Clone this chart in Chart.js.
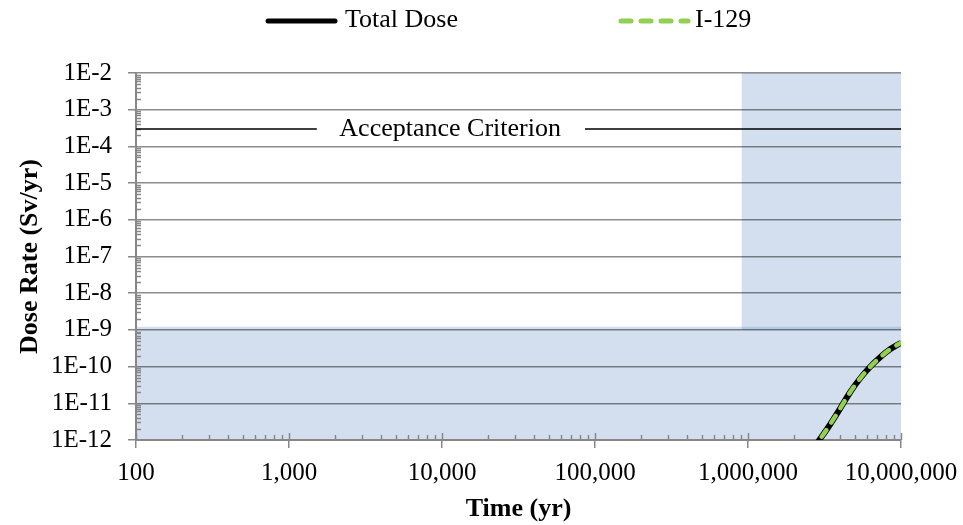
<!DOCTYPE html>
<html>
<head>
<meta charset="utf-8">
<title>Dose Rate vs Time</title>
<script src="https://cdn.jsdelivr.net/npm/chart.js@4.4.1/dist/chart.umd.min.js"></script>
<style>
  html, body { margin: 0; padding: 0; background: #fff; }
  #chart { display: block; }
</style>
</head>
<body>
<canvas id="chart" width="963" height="525"></canvas>
<script>
'use strict';

/* ---- Data ---- */
const TIME_YR    = [2.6e6, 2.87e6, 3.33e6, 4.0e6, 4.64e6, 5.4e6, 6.27e6, 7.4e6, 8.48e6, 1e7];
const TOTAL_DOSE = [5.3e-13, 9e-13, 2.16e-12, 7.2e-12, 1.97e-11, 4.74e-11, 9.75e-11, 1.88e-10, 2.96e-10, 4.48e-10];
const I129_DOSE  = [5.3e-13, 9e-13, 2.16e-12, 7.2e-12, 1.97e-11, 4.74e-11, 9.75e-11, 1.88e-10, 2.96e-10, 4.48e-10];

const X_TICKS = [100, 1000, 10000, 100000, 1000000, 10000000];
const Y_TICKS = [1e-2, 1e-3, 1e-4, 1e-5, 1e-6, 1e-7, 1e-8, 1e-9, 1e-10, 1e-11, 1e-12];

const CRITERION = 3e-4;
const CRITERION_SEGMENTS = [[100, 1520], [86000, 1e7]];
const CRITERION_LABEL_X = 11300;

// shaded windows: [xFrom, xTo, yFrom, yTo]
const SHADES = [
  [100, 1e7, 1e-12, 1.22e-9],
  [9.1e5, 1e7, 1e-9, 1e-2]
];

/* ---- Styles ---- */
const SERIF = '"Liberation Serif", "Times New Roman", serif';
const AXIS_GRAY = '#878787';
const GRID = 'rgba(0,0,0,0.45)';
const SHADE_FILL = 'rgba(79,129,189,0.25)';
const GREEN = '#92D050';

const pts = (xs, ys) => xs.map((x, i) => ({ x, y: ys[i] }));

const criterionData = [];
CRITERION_SEGMENTS.forEach(([a, b], i) => {
  if (i > 0) {
    const prev = CRITERION_SEGMENTS[i - 1][1];
    criterionData.push({ x: Math.sqrt(prev * a), y: null });
  }
  criterionData.push({ x: a, y: CRITERION }, { x: b, y: CRITERION });
});

/* ---- Plugins ---- */
const shading = {
  id: 'shading',
  beforeDraw(chart) {
    const { ctx, scales: { x, y } } = chart;
    ctx.save();
    ctx.fillStyle = SHADE_FILL;
    SHADES.forEach(([x0, x1, y0, y1]) => {
      const l = x.getPixelForValue(x0), r = x.getPixelForValue(x1);
      const b = y.getPixelForValue(y0), t = y.getPixelForValue(y1);
      ctx.fillRect(l, t, r - l, b - t);
    });
    ctx.restore();
  }
};

const minorTicks = {
  id: 'minorTicks',
  beforeDatasetsDraw(chart) {
    const { ctx, scales: { x, y } } = chart;
    ctx.save();
    ctx.strokeStyle = AXIS_GRAY;
    ctx.lineWidth = 1.5;
    ctx.beginPath();
    // x axis, ticks point up into the plot
    for (let d = 2; d <= 7; d++) {
      for (let m = 1; m < 10; m++) {
        const v = m * Math.pow(10, d);
        if (v > 1e7) break;
        const px = Math.round(x.getPixelForValue(v)) + 0.5;
        const len = m === 1 ? 7 : 5;
        ctx.moveTo(px, x.top);
        ctx.lineTo(px, x.top - len);
      }
    }
    // y axis, ticks point right into the plot
    for (let e = -12; e < -2; e++) {
      for (let m = 2; m < 10; m++) {
        const py = Math.round(y.getPixelForValue(m * Math.pow(10, e))) + 0.5;
        ctx.moveTo(y.right, py);
        ctx.lineTo(y.right + 5, py);
      }
    }
    ctx.stroke();
    ctx.restore();
  }
};

const criterionLabel = {
  id: 'criterionLabel',
  afterDatasetsDraw(chart) {
    const { ctx, scales: { x, y } } = chart;
    ctx.save();
    ctx.font = '26px ' + SERIF;
    ctx.fillStyle = '#000';
    ctx.textAlign = 'center';
    ctx.textBaseline = 'middle';
    ctx.fillText('Acceptance Criterion', x.getPixelForValue(CRITERION_LABEL_X), y.getPixelForValue(CRITERION));
    ctx.restore();
  }
};

// legend row at the top, one entry per series
const LEGEND = [
  { label: 'Total Dose', lineX: 265, textX: 345 },
  { label: 'I-129', lineX: 618, textX: 695 }
];

const topLegend = {
  id: 'topLegend',
  afterDraw(chart) {
    const ctx = chart.ctx;
    ctx.save();
    LEGEND.forEach(item => {
      const ds = chart.data.datasets.find(d => d.label === item.label);
      if (!ds) return;
      ctx.beginPath();
      ctx.strokeStyle = ds.borderColor;
      ctx.lineWidth = 5;
      ctx.lineCap = 'round';
      ctx.setLineDash(ds.borderDash ? [10, 10] : []);
      ctx.moveTo(item.lineX + 3, 21);
      ctx.lineTo(item.lineX + 70, 21);
      ctx.stroke();
      ctx.setLineDash([]);
      ctx.font = '26px ' + SERIF;
      ctx.fillStyle = '#000';
      ctx.textAlign = 'left';
      ctx.textBaseline = 'middle';
      ctx.fillText(item.label, item.textX, 20);
    });
    ctx.restore();
  }
};

/* ---- Chart ---- */
new Chart(document.getElementById('chart'), {
  type: 'line',
  data: {
    datasets: [
      {
        label: 'I-129',
        data: pts(TIME_YR, I129_DOSE),
        borderColor: GREEN,
        borderWidth: 4.5,
        borderDash: [8, 9],
        borderCapStyle: 'round',
        cubicInterpolationMode: 'monotone',
        pointRadius: 0,
        order: 0
      },
      {
        label: 'Total Dose',
        data: pts(TIME_YR, TOTAL_DOSE),
        borderColor: '#000',
        borderWidth: 6,
        cubicInterpolationMode: 'monotone',
        pointRadius: 0,
        order: 1
      },
      {
        label: 'Acceptance Criterion',
        data: criterionData,
        borderColor: '#000',
        borderWidth: 1.5,
        pointRadius: 0,
        spanGaps: false,
        order: 2
      }
    ]
  },
  options: {
    responsive: false,
    animation: false,
    layout: { padding: { top: 73, right: 62, left: 0, bottom: 0 } },
    plugins: {
      legend: { display: false },
      tooltip: { enabled: false }
    },
    scales: {
      x: {
        type: 'logarithmic',
        min: 100,
        max: 1e7,
        afterBuildTicks: s => { s.ticks = X_TICKS.map(v => ({ value: v })); },
        afterFit: s => { s.height = 85; s.paddingRight = 0; s.paddingLeft = 0; },
        ticks: {
          callback: v => Number(v).toLocaleString('en-US'),
          color: '#000',
          font: { family: SERIF, size: 25 },
          padding: 10,
          maxRotation: 0,
          autoSkip: false
        },
        grid: { drawOnChartArea: false, tickLength: 8, color: AXIS_GRAY, lineWidth: 1.5 },
        border: { color: AXIS_GRAY, width: 2 },
        title: {
          display: true,
          text: 'Time (yr)',
          color: '#000',
          font: { family: SERIF, size: 26, weight: 'bold' },
          padding: { top: 0, bottom: 0 }
        }
      },
      y: {
        type: 'logarithmic',
        min: 1e-12,
        max: 1e-2,
        afterBuildTicks: s => { s.ticks = Y_TICKS.map(v => ({ value: v })); },
        afterFit: s => { s.width = 136; s.paddingTop = 0; s.paddingBottom = 0; },
        ticks: {
          callback: v => '1E' + Math.round(Math.log10(v)),
          color: '#000',
          font: { family: SERIF, size: 25 },
          padding: 16,
          autoSkip: false
        },
        grid: { color: GRID, tickColor: AXIS_GRAY, lineWidth: 1.5, tickLength: 8 },
        border: { color: AXIS_GRAY, width: 2 },
        title: {
          display: true,
          text: 'Dose Rate (Sv/yr)',
          color: '#000',
          font: { family: SERIF, size: 26, weight: 'bold' },
          padding: { top: 15, bottom: 0 }
        }
      }
    }
  },
  plugins: [shading, minorTicks, criterionLabel, topLegend]
});
</script>
</body>
</html>
